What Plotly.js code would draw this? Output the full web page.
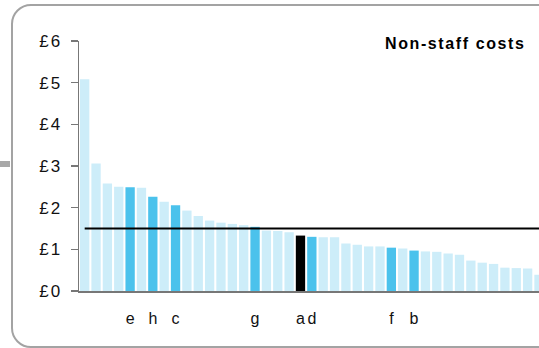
<!DOCTYPE html>
<html>
<head>
<meta charset="utf-8">
<script src="https://cdn.plot.ly/plotly-3.0.1.min.js"></script>
<style>
  html, body { margin: 0; padding: 0; width: 539px; height: 348px; overflow: hidden; background: #fff; }
  #frame { position: absolute; left: 11px; top: 4px; width: 640px; height: 340px; border: 2px solid #a3a3a3; border-radius: 20px; }
  #stub { position: absolute; left: 0; top: 161px; width: 10px; height: 6px; background: #a8a8a8; }
  #chart { position: absolute; left: 0; top: 0; width: 539px; height: 348px; }
  #chart .ytick text { letter-spacing: 2px; }
  #chart .annotation-text { letter-spacing: 1.6px; }
</style>
</head>
<body>
<div id="frame"></div>
<div id="stub"></div>
<div id="chart"></div>
<script>
// Non-staff costs per unit (£), sorted descending
const values = [5.08, 3.06, 2.58, 2.50, 2.49, 2.48, 2.26, 2.14, 2.06, 1.93,
                1.80, 1.69, 1.64, 1.61, 1.58, 1.54, 1.45, 1.44, 1.41, 1.33,
                1.30, 1.29, 1.29, 1.14, 1.11, 1.07, 1.07, 1.04, 1.02, 0.97,
                0.95, 0.94, 0.90, 0.87, 0.73, 0.68, 0.65, 0.56, 0.55, 0.54,
                0.39];
// Named organisations (blank = unnamed)
const labels = ['', '', '', '', 'e', '', 'h', '', 'c', '',
                '', '', '', '', '', 'g', '', '', '', 'a',
                'd', '', '', '', '', '', '', 'f', '', 'b',
                '', '', '', '', '', '', '', '', '', '',
                ''];
const selected = 'a';
const average = 1.5;
const yTickVals = [0, 1, 2, 3, 4, 5, 6];
const yTickText = ['£0', '£1', '£2', '£3', '£4', '£5', '£6'];
const title = 'Non-staff costs';

const LIGHT = '#cdedf9', DARK = '#4bc2ec', BLACK = '#000000';
const xs = values.map((_, i) => i);
const colors = labels.map(l => l === selected ? BLACK : (l ? DARK : LIGHT));
const tickVals = [], tickText = [];
labels.forEach((l, i) => { if (l) { tickVals.push(i); tickText.push(l); } });

const FAM = 'Liberation Sans, Arial, sans-serif';
const xfont = { family: FAM, size: 16, color: '#111' };
const yfont = { family: FAM, size: 17, color: '#111' };

Plotly.newPlot('chart', [{
  type: 'bar', x: xs, y: values,
  marker: { color: colors, line: { width: 0 } },
  hoverinfo: 'skip'
}], {
  width: 539, height: 348,
  margin: { l: 79, r: 0, t: 41, b: 57, pad: 0 },
  paper_bgcolor: 'rgba(0,0,0,0)', plot_bgcolor: 'rgba(0,0,0,0)',
  bargap: 0.18,
  showlegend: false,
  font: xfont,
  xaxis: {
    range: [-0.5, 40.0], tickvals: tickVals, ticktext: tickText,
    ticks: '', showgrid: false, zeroline: false,
    showline: true, linecolor: '#777', linewidth: 2,
    tickfont: xfont, ticklabelstandoff: 12, fixedrange: true
  },
  yaxis: {
    range: [0, 6], tickvals: yTickVals, ticktext: yTickText,
    ticks: 'outside', ticklen: 7, tickwidth: 1.5, tickcolor: '#777',
    showline: true, linecolor: '#777', linewidth: 1.5,
    showgrid: false, zeroline: false,
    tickfont: yfont, ticklabelstandoff: 5, fixedrange: true
  },
  shapes: [{
    type: 'line', xref: 'x', yref: 'y', x0: 0, x1: 40.0, y0: average, y1: average,
    line: { color: '#000', width: 2 }
  }],
  annotations: [{
    text: '<b>' + title + '</b>', xref: 'paper', yref: 'paper',
    x: 0.8174, y: 0.9916, xanchor: 'center', yanchor: 'middle', showarrow: false,
    font: { family: FAM, size: 16, color: '#000' }
  }]
}, { staticPlot: true, displayModeBar: false });
</script>
</body>
</html>
